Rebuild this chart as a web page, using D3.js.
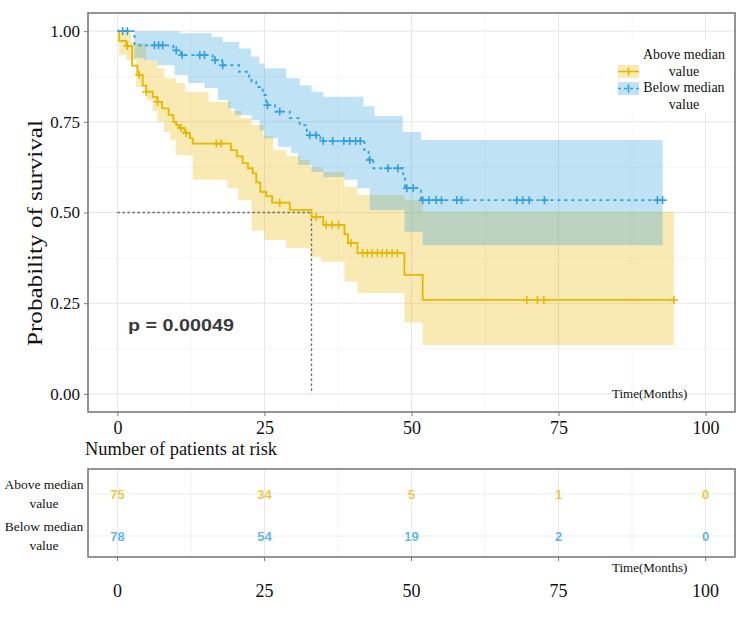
<!DOCTYPE html>
<html>
<head>
<meta charset="utf-8">
<script src="https://cdn.jsdelivr.net/npm/d3@7"></script>
<style>
  body { margin: 0; background: #fff; }
  svg { display: block; }
</style>
</head>
<body>
<script>
// groups and colours
var groups = ["Above median value", "Below median value"];
var colors = ["#E7B800", "#2E9FDF"];

// survival steps: [months, survival]
var aboveSteps = [[0,1],[0.3,0.973],[1.5,0.959],[2.5,0.905],[3.4,0.879],[4.3,0.85],[4.9,0.833],[6,0.819],[6.8,0.805],
  [7.6,0.787],[8.7,0.769],[9.5,0.75],[10,0.741],[10.5,0.733],[11.4,0.719],[12.3,0.705],[12.8,0.69],[19.3,0.672],
  [20.3,0.655],[21.3,0.636],[22.2,0.622],[23,0.608],[23.6,0.583],[24.3,0.557],[25.3,0.545],[26.3,0.527],[29.3,0.507],
  [33,0.488],[35,0.466],[38.6,0.44],[39.2,0.416],[40.8,0.388],[48.8,0.328],[51.9,0.259]];
var aboveEnd = 94.6;
var aboveCensor = [1.7,3.7,4.9,6.8,10.8,11.7,16.8,17.6,27.6,33.8,35.5,36.5,37.6,39.7,41.7,42.5,43.3,44.2,45,45.8,46.7,47.6,69.6,71.4,72.5,94.6];
var aboveUpper = [[0,1],[2.3,0.967],[4.9,0.92],[6.8,0.898],[8,0.87],[10,0.857],[11.5,0.833],[15.5,0.805],[19.3,0.78],
  [21,0.76],[22.8,0.741],[24.8,0.71],[26.5,0.672],[28.7,0.655],[31,0.645],[32.7,0.625],[35,0.612],[38.6,0.571],
  [40.8,0.548],[48.8,0.534],[51.9,0.502]];
var aboveLower = [[0,1],[0.3,0.935],[1.5,0.92],[3.2,0.846],[4.9,0.81],[6,0.78],[6.8,0.75],[7.9,0.722],[9,0.7],[9.9,0.658],
  [12.8,0.59],[18.7,0.567],[20.5,0.534],[22.8,0.45],[25,0.424],[28.7,0.402],[32.7,0.378],[34.6,0.364],[38.6,0.309],
  [40.8,0.278],[48.8,0.197],[51.9,0.135]];

var belowSteps = [[0,1],[2.9,0.961],[9.5,0.947],[10.8,0.934],[16.2,0.92],[17.8,0.906],[20.7,0.888],[22.4,0.874],[22.8,0.86],
  [23.6,0.846],[24.7,0.824],[25.3,0.796],[26.8,0.778],[29.3,0.76],[31,0.741],[32.2,0.713],[34.5,0.697],[42,0.672],
  [42.7,0.645],[43.5,0.622],[48.6,0.595],[48.9,0.567],[51.6,0.534]];
var belowEnd = 92.7;
var belowCensor = [0.9,1.7,6.3,7,7.7,10,11,14,14.8,16.6,17.9,25.5,27.6,32.7,33.8,35,36.6,38.5,39.5,40.5,41.3,42.9,46,47.7,
  49.2,50.3,51.9,53,54.2,55.1,57.7,58.5,67.9,68.9,70,72.6,91.8,92.7];
var belowUpper = [[0,1],[10.5,0.994],[16,0.984],[17.9,0.97],[20.7,0.952],[22.7,0.93],[24.1,0.911],[25,0.898],[28.7,0.87],
  [31,0.851],[33,0.833],[35,0.819],[41.8,0.793],[43.7,0.766],[48.5,0.722],[51.6,0.7]];
var belowLower = [[0,1],[2.9,0.925],[4.6,0.92],[6.8,0.906],[9.7,0.879],[12,0.857],[14.8,0.843],[17.1,0.81],[18.8,0.787],
  [20,0.769],[22.8,0.755],[24.2,0.727],[25,0.705],[27.3,0.681],[29.5,0.664],[30.7,0.631],[33,0.612],[35,0.598],
  [38.6,0.59],[40.8,0.567],[42.9,0.507],[48.8,0.447],[51.9,0.41]];

var medianTime = 33;
var pText = "p = 0.00049";

// risk table
var riskTimes = [0, 25, 50, 75, 100];
var riskAbove = [75, 34, 5, 1, 0];
var riskBelow = [78, 54, 19, 2, 0];

var xTicks = [0, 25, 50, 75, 100];
var yTicks = [0, 0.25, 0.5, 0.75, 1];

var W = 750, H = 624;
var serif = "'Liberation Serif', 'Times New Roman', serif";
var sans = "'Liberation Sans', Arial, sans-serif";

var svg = d3.select("body").append("svg").attr("width", W).attr("height", H);

var x = d3.scaleLinear().domain([-5, 105]).range([88, 735]);
var y = d3.scaleLinear().domain([-0.05, 1.05]).range([412, 13]);

// step lookup
function stepAt(arr, t) {
  var v = arr[0][1];
  arr.forEach(function(d) { if (d[0] <= t) v = d[1]; });
  return v;
}

// grid
var grid = svg.append("g");
d3.range(-0.125, 1.05, 0.125).forEach(function(v) {
  if (v < -0.05) return;
  var major = Math.abs(v * 4 - Math.round(v * 4)) < 1e-6;
  grid.append("line").attr("x1", 88).attr("x2", 735).attr("y1", y(v)).attr("y2", y(v))
    .attr("stroke", major ? "#e6e6e6" : "#f2f2f2").attr("stroke-width", major ? 1 : 0.8);
});
d3.range(0, 105, 12.5).forEach(function(t) {
  var major = t % 25 === 0;
  grid.append("line").attr("y1", 13).attr("y2", 412).attr("x1", x(t)).attr("x2", x(t))
    .attr("stroke", major ? "#e6e6e6" : "#f2f2f2").attr("stroke-width", major ? 1 : 0.8);
});

// bands
function bandData(upper, lower, end) {
  var ts = upper.map(function(d) { return d[0]; }).concat(lower.map(function(d) { return d[0]; }));
  ts = Array.from(new Set(ts)).filter(function(t) { return t <= end; }).sort(d3.ascending);
  ts.push(end);
  return ts.map(function(t) { return { t: t, lo: stepAt(lower, t), hi: stepAt(upper, t) }; });
}
var area = d3.area().curve(d3.curveStepAfter)
  .x(function(d) { return x(d.t); })
  .y0(function(d) { return y(d.lo); })
  .y1(function(d) { return y(d.hi); });

svg.append("path").datum(bandData(aboveUpper, aboveLower, aboveEnd))
  .attr("d", area).attr("fill", colors[0]).attr("fill-opacity", 0.3);
svg.append("path").datum(bandData(belowUpper, belowLower, belowEnd))
  .attr("d", area).attr("fill", colors[1]).attr("fill-opacity", 0.3);

// median line
svg.append("path")
  .attr("d", d3.line()([[x(0), y(0.5)], [x(medianTime), y(0.5)], [x(medianTime), y(0)]]))
  .attr("fill", "none").attr("stroke", "#6a6a6a").attr("stroke-width", 1.3).attr("stroke-dasharray", "2.5,2.5");

// curves
var line = d3.line().curve(d3.curveStepAfter)
  .x(function(d) { return x(d[0]); })
  .y(function(d) { return y(d[1]); });

function curve(steps, end, censor, col, dash) {
  var pts = steps.concat([[end, steps[steps.length - 1][1]]]);
  svg.append("path").datum(pts).attr("d", line)
    .attr("fill", "none").attr("stroke", col).attr("stroke-width", 1.8)
    .attr("stroke-dasharray", dash);
  var g = svg.append("g").attr("stroke", col).attr("stroke-width", 1.6);
  censor.forEach(function(t) {
    var cx = x(t), cy = y(stepAt(steps, t));
    g.append("line").attr("x1", cx - 4).attr("x2", cx + 4).attr("y1", cy).attr("y2", cy);
    g.append("line").attr("x1", cx).attr("x2", cx).attr("y1", cy - 4).attr("y2", cy + 4);
  });
}
curve(aboveSteps, aboveEnd, aboveCensor, colors[0], null);
curve(belowSteps, belowEnd, belowCensor, colors[1], "3,4");

// p value
svg.append("text").attr("x", x(1.8)).attr("y", y(0.19)).attr("dy", "0.35em")
  .attr("font-family", sans).attr("font-weight", "bold").attr("font-size", 16)
  .attr("textLength", 106).attr("lengthAdjust", "spacingAndGlyphs")
  .attr("fill", "#3a3a3a").text(pText);

svg.append("text").attr("x", 612).attr("y", y(0)).attr("dy", "0.35em")
  .attr("font-family", serif).attr("font-size", 13).attr("fill", "#111").text("Time(Months)");

// legend
var leg = svg.append("g");
leg.append("rect").attr("x", 602).attr("y", 40).attr("width", 131).attr("height", 72).attr("fill", "#fff");
var legLines = [["Above median", "value"], ["Below median", "value"]];
groups.forEach(function(gname, i) {
  var ky = 65 + i * 17;
  leg.append("rect").attr("x", 618).attr("y", ky).attr("width", 21).attr("height", 13)
    .attr("fill", colors[i]).attr("fill-opacity", 0.3);
  leg.append("line").attr("x1", 618).attr("x2", 639).attr("y1", ky + 6.5).attr("y2", ky + 6.5)
    .attr("stroke", colors[i]).attr("stroke-width", 1.6).attr("stroke-dasharray", i ? "3,3" : null);
  leg.append("line").attr("x1", 628.5).attr("x2", 628.5).attr("y1", ky + 2.5).attr("y2", ky + 10.5)
    .attr("stroke", colors[i]).attr("stroke-width", 1.6);
  legLines[i].forEach(function(s, j) {
    leg.append("text").attr("x", 684).attr("y", 54 + i * 33 + j * 17).attr("dy", "0.35em")
      .attr("text-anchor", "middle").attr("font-family", serif).attr("font-size", 14).attr("fill", "#111").text(s);
  });
});

// panel border and axes
svg.append("rect").attr("x", 88).attr("y", 13).attr("width", 647).attr("height", 399)
  .attr("fill", "none").attr("stroke", "#7a7a7a").attr("stroke-width", 1.6);

var yAxis = svg.append("g").attr("transform", "translate(88,0)")
  .call(d3.axisLeft(y).tickValues(yTicks).tickFormat(d3.format(".2f")).tickSize(4).tickPadding(4));
var xAxis = svg.append("g").attr("transform", "translate(0,412)")
  .call(d3.axisBottom(x).tickValues(xTicks).tickFormat(d3.format("d")).tickSize(4).tickPadding(5));
[yAxis, xAxis].forEach(function(a) {
  a.select(".domain").remove();
  a.selectAll(".tick line").attr("stroke", "#7a7a7a");
  a.selectAll("text").attr("font-family", serif).attr("font-size", 17).attr("fill", "#111");
});
xAxis.selectAll("text").attr("font-size", 18);

svg.append("text").attr("transform", "translate(35,233) rotate(-90)")
  .attr("text-anchor", "middle").attr("dy", "0.35em")
  .attr("font-family", serif).attr("font-size", 20).attr("fill", "#111")
  .attr("textLength", 226).attr("lengthAdjust", "spacingAndGlyphs").text("Probability of survival");

// risk table
svg.append("text").attr("x", 85).attr("y", 455).attr("font-family", serif).attr("font-size", 19)
  .attr("textLength", 192).attr("lengthAdjust", "spacingAndGlyphs")
  .attr("fill", "#111").text("Number of patients at risk");

var ty = d3.scalePoint().domain(groups).range([494, 536]);
var tg = svg.append("g");
d3.range(0, 105, 12.5).forEach(function(t) {
  tg.append("line").attr("x1", x(t)).attr("x2", x(t)).attr("y1", 469).attr("y2", 557)
    .attr("stroke", t % 25 === 0 ? "#e6e6e6" : "#f2f2f2");
});
groups.forEach(function(gname) {
  tg.append("line").attr("x1", 88).attr("x2", 735).attr("y1", ty(gname)).attr("y2", ty(gname)).attr("stroke", "#ececec");
});
[riskAbove, riskBelow].forEach(function(arr, i) {
  arr.forEach(function(n, j) {
    tg.append("text").attr("x", x(riskTimes[j])).attr("y", ty(groups[i])).attr("dy", "0.35em")
      .attr("text-anchor", "middle").attr("font-family", sans).attr("font-weight", "bold").attr("font-size", 13)
      .attr("fill", colors[i]).attr("fill-opacity", 0.75).text(n);
  });
  legLines[i].forEach(function(s, j) {
    tg.append("text").attr("x", 44).attr("y", ty(groups[i]) - 10 + j * 19).attr("dy", "0.35em")
      .attr("text-anchor", "middle").attr("font-family", serif).attr("font-size", 13.5).attr("fill", "#111").text(s);
  });
});
tg.append("rect").attr("x", 88).attr("y", 469).attr("width", 647).attr("height", 88)
  .attr("fill", "none").attr("stroke", "#7a7a7a").attr("stroke-width", 1.6);
xTicks.forEach(function(t) {
  tg.append("line").attr("x1", x(t)).attr("x2", x(t)).attr("y1", 557).attr("y2", 561).attr("stroke", "#7a7a7a");
  tg.append("text").attr("x", x(t)).attr("y", 591).attr("dy", "0.35em").attr("text-anchor", "middle")
    .attr("font-family", serif).attr("font-size", 18).attr("fill", "#111").text(t);
});
tg.append("text").attr("x", 612).attr("y", 567).attr("dy", "0.35em")
  .attr("font-family", serif).attr("font-size", 13).attr("fill", "#111").text("Time(Months)");
</script>
</body>
</html>
